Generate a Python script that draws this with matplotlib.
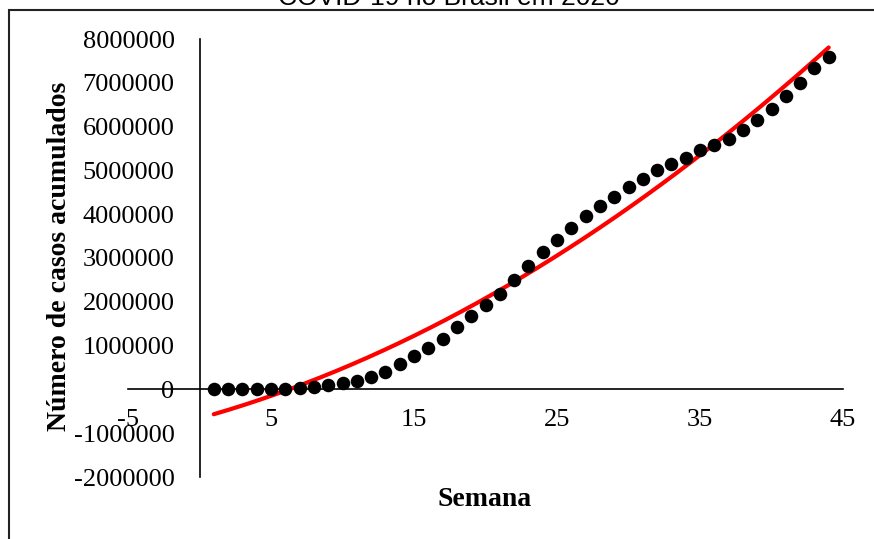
import numpy as np
import matplotlib
matplotlib.use("Agg")
import matplotlib.pyplot as plt
from matplotlib.patches import Rectangle

# casos acumulados de COVID-19 por semana epidemiológica
semanas = np.arange(1, 45)
casos = np.array([
    20, 100, 1000, 4000, 10000, 20000, 30000, 60000, 110000, 150000,
    200000, 280000, 400000, 580000, 760000, 950000, 1160000, 1430000, 1680000, 1920000,
    2170000, 2490000, 2820000, 3130000, 3420000, 3680000, 3970000, 4180000, 4400000, 4620000,
    4800000, 5000000, 5140000, 5290000, 5470000, 5580000, 5710000, 5930000, 6140000, 6410000,
    6700000, 7000000, 7340000, 7590000,
])
x_ticks = [-5, 5, 15, 25, 35, 45]
y_ticks = list(range(-2000000, 8000001, 1000000))

# linha de tendência polinomial de ordem 2
coef = np.polyfit(semanas, casos, 2)
x_fit = np.linspace(semanas.min(), semanas.max(), 200)
y_fit = np.polyval(coef, x_fit)

W, H = 874, 539
fig = plt.figure(figsize=(W / 100, H / 100), dpi=100)
ax = fig.add_axes([128 / W, 62 / H, 715 / W, 438 / H])

ax.plot(x_fit, y_fit, color="#ff0000", lw=3, solid_capstyle="round", zorder=2)
ax.scatter(semanas, casos, s=95, color="black", zorder=3, linewidths=0)

ax.set_xlim(-5, 45)
ax.set_ylim(-2000000, 8000000)

for side in ["top", "right"]:
    ax.spines[side].set_visible(False)
ax.spines["left"].set_position(("data", 0))
ax.spines["bottom"].set_position(("data", 0))
for side in ["left", "bottom"]:
    ax.spines[side].set_linewidth(1.2)
    ax.spines[side].set_zorder(1)

ax.set_xticks(x_ticks)
ax.set_yticks(y_ticks)
ax.set_xticklabels([str(v) for v in x_ticks])
ax.set_yticklabels([str(v) for v in y_ticks])
ax.tick_params(axis="both", length=0, labelsize=19)
ax.tick_params(axis="y", pad=18)
ax.tick_params(axis="x", pad=14)
for lbl in ax.get_xticklabels() + ax.get_yticklabels():
    lbl.set_fontfamily("Liberation Serif")

fig.text(485 / W, 1 - 500 / H, "Semana", ha="center", va="center",
         fontsize=20, fontweight="bold", fontfamily="Liberation Serif")
fig.text(59 / W, 1 - 256 / H, "Número de casos acumulados", rotation=90,
         ha="center", va="center", fontsize=20, fontweight="bold",
         fontfamily="Liberation Serif")
fig.text(449 / W, 1 - 5 / H, "COVID-19 no Brasil em 2020", ha="center",
         va="baseline", fontsize=19, fontfamily="Liberation Sans")

# moldura da área do gráfico
fig.patches.append(Rectangle((9 / W, -0.5), 2.0, 1.5 - 9.5 / H,
                             transform=fig.transFigure, fill=False,
                             edgecolor="#222222", lw=1.5))

fig.savefig("out.png", dpi=100)
